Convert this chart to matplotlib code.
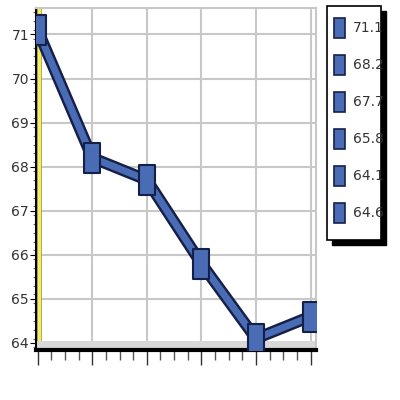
import matplotlib.pyplot as plt
from matplotlib.patches import Rectangle
from matplotlib.path import Path
import matplotlib.patheffects as pe

plt.rcParams['font.family'] = ['Liberation Sans Narrow', 'DejaVu Sans']

# values
values = [71.1, 68.2, 67.7, 65.8, 64.1, 64.6]
positions = [0, 1, 2, 3, 4, 5]
yticks = [64, 65, 66, 67, 68, 69, 70, 71]
legend_labels = ['71.1', '68.2', '67.7', '65.8', '64.1', '64.6']

blue = '#4a6cb4'
navy = '#15204a'

fig = plt.figure(figsize=(4, 4), dpi=100)
ax = fig.add_axes([0.09, 0.125, 0.70, 0.855])

ax.set_xlim(-0.03, 5.1)
ax.set_ylim(63.84, 71.6)

# back wall grid
ax.set_xticks(positions)
ax.set_yticks(yticks)
ax.grid(True, color='#c8c8c8', linewidth=1.5)
ax.set_axisbelow(True)

# yellow side wall and grey floor
ax.add_patch(Rectangle((0.003, 0), 0.016, 1, transform=ax.transAxes,
                       facecolor='#f2ec6a', edgecolor='#a8a040', linewidth=0.6, zorder=1))
ax.add_patch(Rectangle((0, 0), 1, 0.025, transform=ax.transAxes,
                       facecolor='#d8d8d8', edgecolor='none', zorder=1))

# 3d-ish ribbon line with box markers
box = Path([(-0.55, -1), (0.55, -1), (0.55, 1), (-0.55, 1), (-0.55, -1)],
           [Path.MOVETO, Path.LINETO, Path.LINETO, Path.LINETO, Path.CLOSEPOLY])
ax.plot(positions, values, color=blue, linewidth=5, zorder=3,
        path_effects=[pe.Stroke(linewidth=8.5, foreground=navy), pe.Normal()])
ax.plot(positions, values, linestyle='none', marker=box, markersize=22,
        markerfacecolor=blue, markeredgecolor=navy, markeredgewidth=1.5, zorder=4)

for side in ['top', 'right']:
    ax.spines[side].set_color('#c8c8c8')
    ax.spines[side].set_linewidth(1.5)
ax.spines['left'].set_color('black')
ax.spines['left'].set_linewidth(1.5)
ax.spines['bottom'].set_color('black')
ax.spines['bottom'].set_linewidth(3)

ax.set_xticks([i * 0.25 for i in range(21)], minor=True)
ax.set_xticklabels([])
ax.tick_params(axis='x', which='major', length=11, width=1, color='#333333')
ax.tick_params(axis='x', which='minor', length=7, width=1, color='#555555')
ax.set_yticks([63.9 + i * 0.2 for i in range(39)], minor=True)
ax.tick_params(axis='y', which='major', length=4, labelsize=10, pad=1, labelcolor='#333333')
ax.tick_params(axis='y', which='minor', length=2, width=0.8, color='#666666')

# legend box with shadow
lx, ly, lw, lh = 0.8175, 0.40, 0.135, 0.585
fig.patches.append(Rectangle((lx + 0.013, ly - 0.013), lw, lh, transform=fig.transFigure,
                             facecolor='black', edgecolor='black', zorder=1))
fig.patches.append(Rectangle((lx, ly), lw, lh, transform=fig.transFigure,
                             facecolor='white', edgecolor='black', linewidth=1.2, zorder=2))
for i, lab in enumerate(legend_labels):
    yc = 0.93 - i * 0.0925
    fig.patches.append(Rectangle((0.835, yc - 0.025), 0.028, 0.05, transform=fig.transFigure,
                                 facecolor=blue, edgecolor=navy, linewidth=1.2, zorder=3))
    fig.text(0.882, yc, lab, fontsize=10, va='center', ha='left', color='#333333', zorder=4)

fig.savefig('out.png', dpi=100)
